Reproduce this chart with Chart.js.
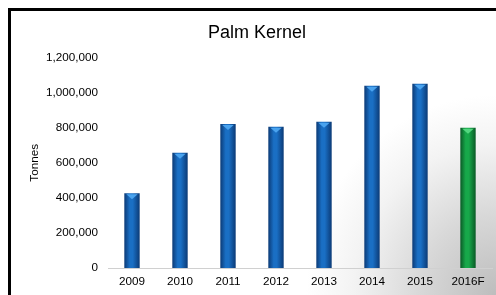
<!DOCTYPE html>
<html>
<head>
<meta charset="utf-8">
<script src="https://cdn.jsdelivr.net/npm/chart.js@4/dist/chart.umd.min.js"></script>
<style>
  html, body { margin: 0; padding: 0; }
  body {
    width: 496px; height: 295px; overflow: hidden; position: relative;
    background: radial-gradient(ellipse 190px 200px at 100% 100%, #bdbdbd 0%, #d8d8d8 40%, #f3f3f3 75%, #ffffff 100%);
  }
  #frame {
    position: absolute; left: 8px; top: 8px; right: 0; bottom: 0;
    border-top: 3px solid #000; border-left: 3px solid #000;
    pointer-events: none;
  }
  #wrap { position: absolute; left: 0; top: 0; width: 496px; height: 295px; }
</style>
</head>
<body>
<div id="wrap"><canvas id="chart" width="496" height="295"></canvas></div>
<div id="frame"></div>
<script>
// ── Datos ─────────────────────────────────────────────────────────────
const years   = ["2009", "2010", "2011", "2012", "2013", "2014", "2015", "2016F"];
const tonnes  = [427000, 657000, 822000, 806000, 834000, 1040000, 1051000, 800000];
const isForecast = [false, false, false, false, false, false, false, true];

const FONT = "Arial, 'Liberation Sans', sans-serif";

// colores: [borde oscuro, centro, tapa clara]
const BLUE  = ["#0b3a76", "#1a6fc4", "#4aa3ee"];
const GREEN = ["#0a5a26", "#17a84a", "#52d67f"];

// Gradiente horizontal por barra (efecto cilindro)
const cylinderBars = {
    id: "cylinderBars",
    beforeDatasetsDraw(chart) {
        const { ctx } = chart;
        const meta = chart.getDatasetMeta(0);
        meta.data.forEach((bar, i) => {
            const c = isForecast[i] ? GREEN : BLUE;
            const x0 = bar.x - bar.width / 2;
            const x1 = bar.x + bar.width / 2;
            const g = ctx.createLinearGradient(x0, 0, x1, 0);
            g.addColorStop(0, c[0]);
            g.addColorStop(0.35, c[1]);
            g.addColorStop(0.55, c[1]);
            g.addColorStop(1, c[0]);
            bar.options = Object.assign({}, bar.options, { backgroundColor: g });
        });
    },
    afterDatasetsDraw(chart) {
        const { ctx } = chart;
        const meta = chart.getDatasetMeta(0);
        meta.data.forEach((bar, i) => {
            const c = isForecast[i] ? GREEN : BLUE;
            const hw = bar.width / 2;
            ctx.save();
            ctx.fillStyle = c[2];
            ctx.beginPath();
            ctx.moveTo(bar.x - hw + 2, bar.y + 1);
            ctx.lineTo(bar.x + hw - 2, bar.y + 1);
            ctx.lineTo(bar.x, bar.y + 6);
            ctx.closePath();
            ctx.fill();
            ctx.restore();
        });
    }
};

new Chart(document.getElementById("chart"), {
    type: "bar",
    data: {
        labels: years,
        datasets: [{
            label: "Tonnes",
            data: tonnes,
            backgroundColor: ctx => (isForecast[ctx.dataIndex] ? GREEN[1] : BLUE[1]),
            borderWidth: 0,
            barPercentage: 0.32,
            categoryPercentage: 1,
        }]
    },
    options: {
        responsive: false,
        animation: false,
        devicePixelRatio: 1,
        layout: { padding: { left: 22, right: 4, top: 14, bottom: 0 } },
        plugins: {
            legend: { display: false },
            tooltip: { enabled: false },
            title: {
                display: true,
                text: "Palm Kernel",
                color: "#000",
                font: { family: FONT, size: 18, weight: "normal" },
                padding: { top: 8, bottom: 14 },
            },
        },
        scales: {
            x: {
                grid: { display: false, drawTicks: false },
                border: { display: true, color: "#d0d0d0", width: 1 },
                ticks: { color: "#000", font: { family: FONT, size: 11.7 }, padding: 7, maxRotation: 0, autoSkip: false },
                afterFit(scale) { scale.height = 27; },
            },
            y: {
                min: 0,
                max: 1200000,
                grid: { display: false, drawTicks: false },
                border: { display: false },
                ticks: {
                    stepSize: 200000,
                    color: "#000",
                    font: { family: FONT, size: 11.7 },
                    padding: 10,
                    callback: v => v.toLocaleString("en-US"),
                },
                title: {
                    display: true,
                    text: "Tonnes",
                    color: "#000",
                    font: { family: FONT, size: 11.7 },
                    padding: { top: 6, bottom: 0 },
                },
                afterFit(scale) { scale.width = 86; },
            }
        }
    },
    plugins: [cylinderBars]
});
</script>
</body>
</html>
